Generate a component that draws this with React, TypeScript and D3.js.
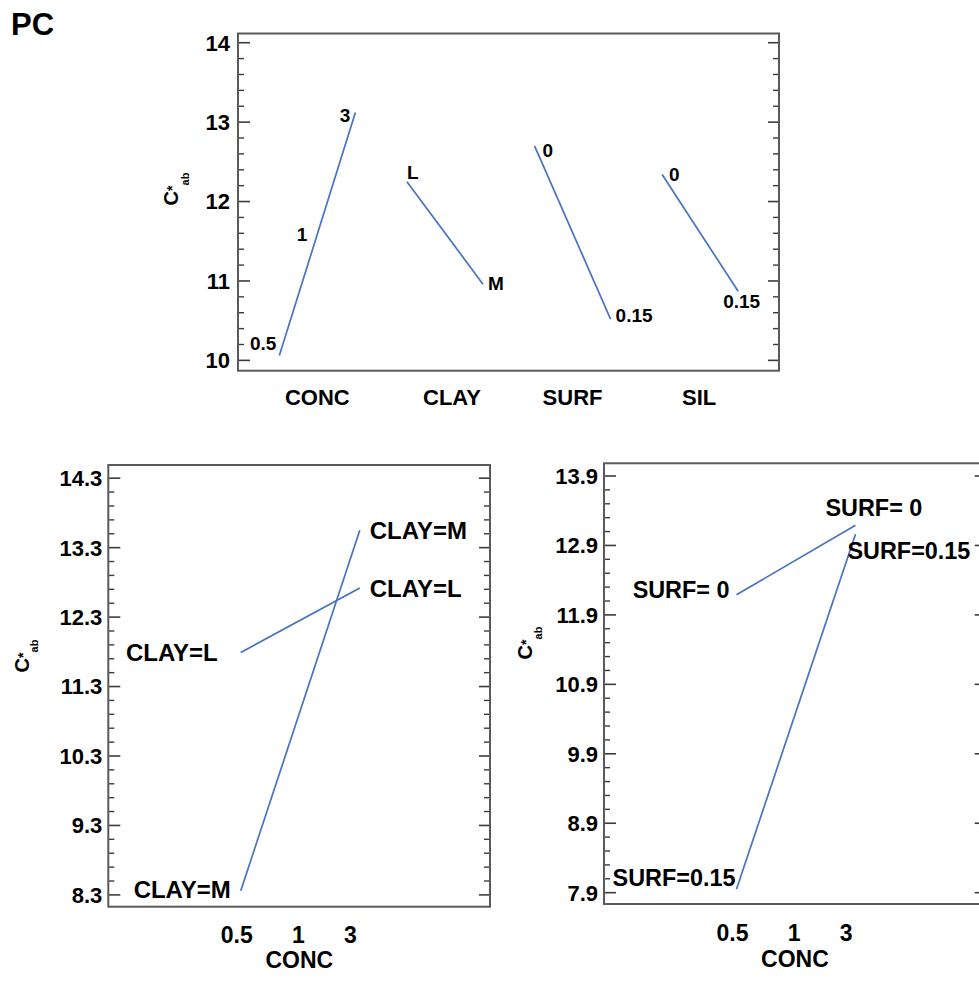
import React from "react";
import * as d3 from "d3";

// ---------- data ----------
const topFactors = ["CONC", "CLAY", "SURF", "SIL"];
const topLevelLabels = [["0.5", "1", "3"], ["L", "M"], ["0", "0.15"], ["0", "0.15"]];
const topMeans = [
  [10.06, 11.59, 13.12],
  [12.25, 10.96],
  [12.7, 10.52],
  [12.34, 10.87],
];
const topYTicks = [10, 11, 12, 13, 14];

const concLevels = ["0.5", "1", "3"];

const clayGroups = ["CLAY=L", "CLAY=M"];
const clayAtLow = [11.79, 8.36];
const clayAtHigh = [12.72, 13.55];
const clayYTicks = [8.3, 9.3, 10.3, 11.3, 12.3, 13.3, 14.3];

const surfGroups = ["SURF= 0", "SURF=0.15"];
const surfAtLow = [12.19, 7.95];
const surfAtHigh = [13.19, 13.06];
const surfYTicks = [7.9, 8.9, 9.9, 10.9, 11.9, 12.9, 13.9];

// ---------- style / layout ----------
const FONT = "'Liberation Sans', Arial, Helvetica, sans-serif";
const LINE = "#4673c2";
const FRAME = "#5a5a5a";
const TICK = "#3c3c3c";

// label offsets (dx, dy of label centre from the point, anchor)
const topLabelOffsets = [
  [[-3, -12, "end"], [-10, 0, "end"], [-5, 3, "end"]],
  [[0, -10, "start"], [5, -1, "start"]],
  [[8, 4, "start"], [5, -4, "start"]],
  [[7, 0, "start"], [-15, 10, "start"]],
];
const topCatDx = [0, 7, 0, -1];
const clayLowOffsets = [[-23, 0], [-10, -1]];
const clayHighOffsets = [[10, 0], [10, 0]];
const surfLowOffsets = [[-7, -5], [-1, -12]];
const surfHighOffsets = [[-30, -18], [-8, 16]];

function YFrame({ x0, x1, y0, y1, y, majors, fontSize, gap, fmt }) {
  const [dlo, dhi] = y.domain();
  const minors: number[] = [];
  d3.range(-20, 60).forEach((i) => {
    const v = +(majors[0] + i * 0.2).toFixed(3);
    if (v >= dlo && v <= dhi && !majors.some((m) => Math.abs(m - v) < 1e-6)) minors.push(v);
  });
  return (
    <g>
      {majors.map((m) => (
        <g key={"M" + m}>
          <line x1={x0} x2={x0 + 12} y1={y(m)} y2={y(m)} stroke={TICK} strokeWidth={1.6} />
          <line x1={x1} x2={x1 - 11} y1={y(m)} y2={y(m)} stroke={TICK} strokeWidth={1.6} />
          <text x={x0 - gap} y={y(m) + fontSize * 0.36} textAnchor="end" fontSize={fontSize} fontWeight="bold" fontFamily={FONT}>
            {fmt(m)}
          </text>
        </g>
      ))}
      {minors.map((m) => (
        <g key={"m" + m}>
          <line x1={x0} x2={x0 + 6} y1={y(m)} y2={y(m)} stroke={TICK} strokeWidth={1.4} />
          <line x1={x1} x2={x1 - 6} y1={y(m)} y2={y(m)} stroke={TICK} strokeWidth={1.4} />
        </g>
      ))}
      <rect x={x0} y={y0} width={x1 - x0} height={y1 - y0} fill="none" stroke={FRAME} strokeWidth={2} />
    </g>
  );
}

function YLabel({ x, y, subShift }) {
  return (
    <text transform={`translate(${x},${y}) rotate(-90)`} textAnchor="middle" fontFamily={FONT} fontWeight="bold" fontSize={20}>
      <tspan fontSize={20}>C</tspan>
      <tspan fontSize={14} dy={-1}>*</tspan>
      <tspan fontSize={11} dy={subShift + 1}>ab</tspan>
    </text>
  );
}

function Interaction({ x0, x1, y0, y1, domain, majors, groups, low, high, lowOff, highOff, tickBase, titleBase, ylab, fs }) {
  const y = d3.scaleLinear().domain(domain).range([y1, y0]);
  const x = d3.scaleLinear().domain([-1.113, 2.094]).range([x0, x1]);
  const xl = d3.scalePoint().domain(concLevels).range([x(0) + 12, x(1) - 3]);
  const line = d3.line<[number, number]>().x((d) => x(d[0])).y((d) => y(d[1]));
  return (
    <g>
      <YFrame x0={x0} x1={x1} y0={y0} y1={y1} y={y} majors={majors} fontSize={22} gap={6} fmt={(v) => d3.format(".1f")(v)} />
      {groups.map((g, i) => (
        <g key={g}>
          <path d={line([[0, low[i]], [1, high[i]]]) || ""} fill="none" stroke={LINE} strokeWidth={1.7} />
          <text x={x(0) + lowOff[i][0]} y={y(low[i]) + lowOff[i][1] + fs * 0.36} textAnchor="end" fontSize={fs} fontWeight="bold" fontFamily={FONT} style={{ whiteSpace: "pre" }}>
            {g}
          </text>
          <text x={x(1) + highOff[i][0]} y={y(high[i]) + highOff[i][1] + fs * 0.36} textAnchor="start" fontSize={fs} fontWeight="bold" fontFamily={FONT} style={{ whiteSpace: "pre" }}>
            {g}
          </text>
        </g>
      ))}
      {concLevels.map((c) => (
        <text key={c} x={xl(c)} y={tickBase} textAnchor="end" fontSize={23} fontWeight="bold" fontFamily={FONT}>
          {c}
        </text>
      ))}
      <text x={x(0.5) - 1} y={titleBase} textAnchor="middle" fontSize={23} fontWeight="bold" fontFamily={FONT}>
        CONC
      </text>
      <YLabel x={ylab[0]} y={ylab[1]} subShift={ylab[2]} />
    </g>
  );
}

export default function App() {
  // top main-effects plot
  const tx0 = 238, tx1 = 779, ty0 = 33.5, ty1 = 370.7;
  const yT = d3.scaleLinear().domain([9.87, 14.116]).range([ty1, ty0]);
  const xT = d3.scaleLinear().domain([-0.324, 3.916]).range([tx0, tx1]);
  const span = 0.596;
  const lineT = d3.line<[number, number]>().x((d) => xT(d[0])).y((d) => yT(d[1]));
  const fsT = 19;

  return (
    <svg width={979} height={981} style={{ position: "absolute", left: 0, top: 0, background: "#fff" }}>
      <rect width={979} height={981} fill="#fff" />
      <text x={11} y={35} fontSize={31} fontWeight="bold" fontFamily={FONT}>
        PC
      </text>

      <YFrame x0={tx0} x1={tx1} y0={ty0} y1={ty1} y={yT} majors={topYTicks} fontSize={22} gap={8} fmt={(v) => String(v)} />
      {topFactors.map((f, i) => {
        const vals = topMeans[i];
        const n = vals.length;
        const pts: [number, number][] = vals.map((v, j) => [i + (span * j) / (n - 1), v]);
        return (
          <g key={f}>
            <path d={lineT(pts) || ""} fill="none" stroke={LINE} strokeWidth={1.7} />
            {topLevelLabels[i].map((lab, j) => {
              const off = topLabelOffsets[i][j];
              return (
                <text key={j} x={xT(pts[j][0]) + (off[0] as number)} y={yT(pts[j][1]) + (off[1] as number) + fsT * 0.36} textAnchor={off[2] as string} fontSize={fsT} fontWeight="bold" fontFamily={FONT}>
                  {lab}
                </text>
              );
            })}
            <text x={xT(i + span / 2) + topCatDx[i]} y={405} textAnchor="middle" fontSize={22} fontWeight="bold" fontFamily={FONT}>
              {f}
            </text>
          </g>
        );
      })}
      <YLabel x={178} y={189} subShift={11} />

      <Interaction
        x0={108.3} x1={490} y0={465} y1={906.7}
        domain={[8.13, 14.49]} majors={clayYTicks}
        groups={clayGroups} low={clayAtLow} high={clayAtHigh}
        lowOff={clayLowOffsets} highOff={clayHighOffsets}
        tickBase={943} titleBase={968} ylab={[29, 656, 9]} fs={24}
      />
      <Interaction
        x0={604} x1={985.7} y0={463.3} y1={904}
        domain={[7.737, 14.083]} majors={surfYTicks}
        groups={surfGroups} low={surfAtLow} high={surfAtHigh}
        lowOff={surfLowOffsets} highOff={surfHighOffsets}
        tickBase={941} titleBase={967} ylab={[532, 643, 10]} fs={23.4}
      />
    </svg>
  );
}
